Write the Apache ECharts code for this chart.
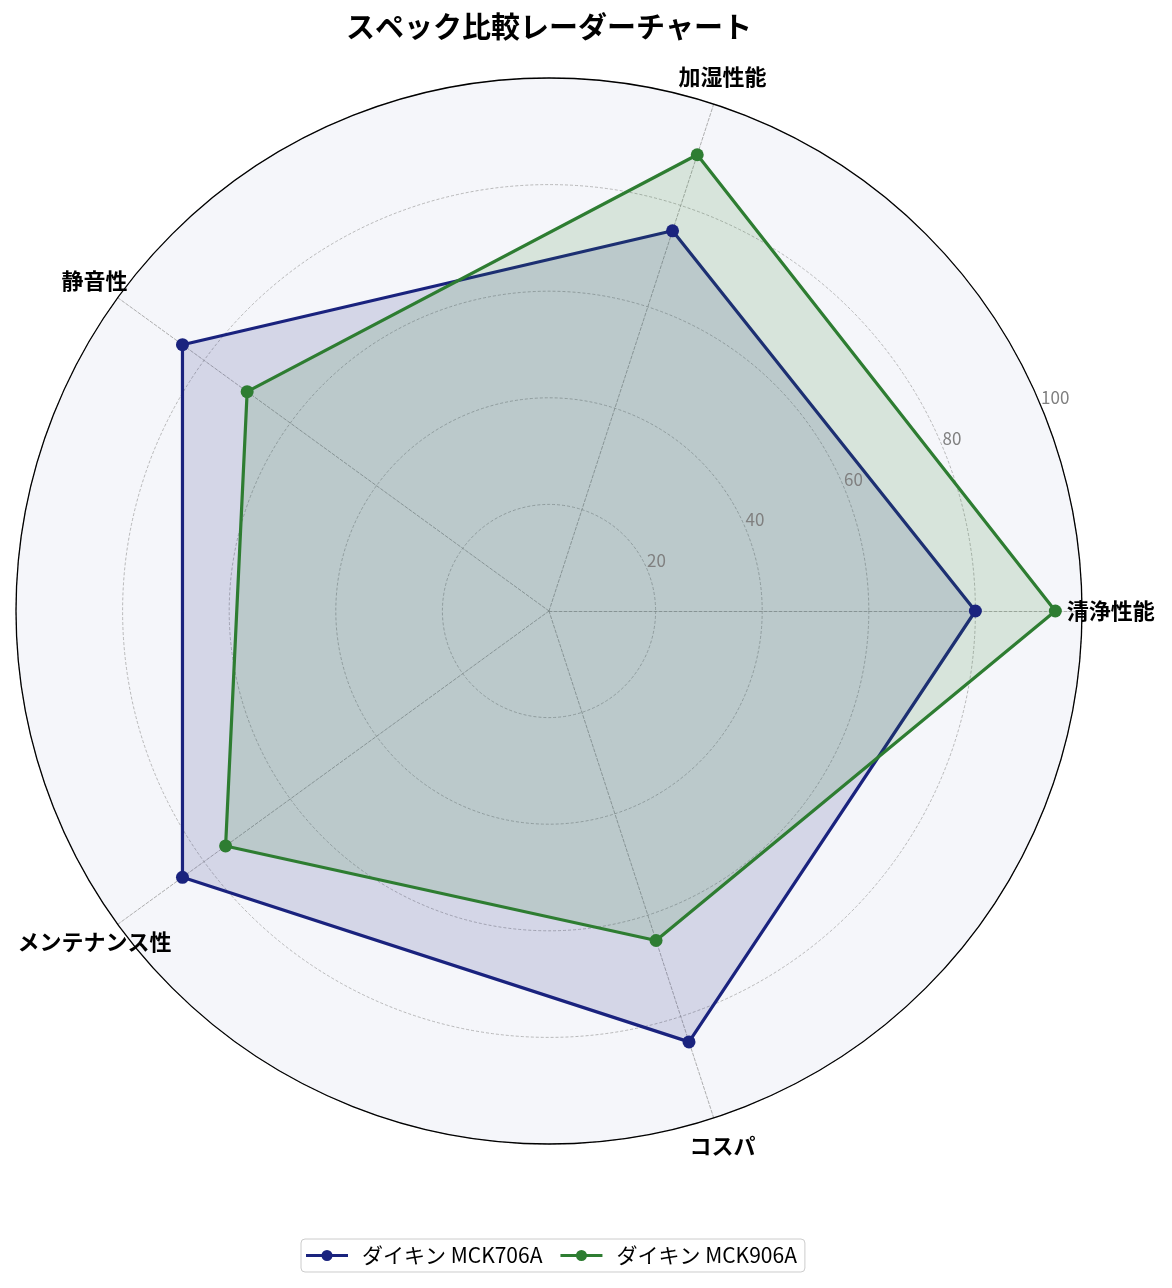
<!DOCTYPE html>
<html lang="ja">
<head>
  <meta charset="UTF-8">
  <script src="https://cdn.jsdelivr.net/npm/echarts/dist/echarts.min.js"></script>
  <style>
    html, body { margin: 0; padding: 0; background: #fff; }
    #chart { width: 1172px; height: 1288px; }
  </style>
</head>
<body>
  <div id="chart"></div>
  <script>
    // axes of the radar, counter-clockwise from the right
    const categories = ['清浄性能', '加湿性能', '静音性', 'メンテナンス性', 'コスパ'];
    const seriesNames = ['ダイキン MCK706A', 'ダイキン MCK906A'];
    const mck706a = [80, 75, 85, 85, 85];
    const mck906a = [95, 90, 70, 75, 65];
    const seriesColors = ['#1a237e', '#2e7d32'];
    const rTicks = [0, 20, 40, 60, 80, 100];

    const font = '"Noto Sans CJK JP", "Noto Sans", sans-serif';
    const center = [549, 611];
    const radius = 533;
    const rMax = rTicks[rTicks.length - 1];
    const rStep = rTicks[1] - rTicks[0];

    // legend icon: short line with a dot on it
    const legendIcon = 'path://M0,5.5h42v3h-42z M26.5,7a5.5,5.5 0 1,1 -11,0a5.5,5.5 0 1,1 11,0z';

    const chart = echarts.init(document.getElementById('chart'));

    const makeSeries = (name, values, color) => ({
      type: 'radar',
      radarIndex: 0,
      z: 3,
      symbol: 'circle',
      symbolSize: 13,
      lineStyle: { color: color, width: 3.2 },
      itemStyle: { color: color },
      areaStyle: { color: color, opacity: 0.15 },
      data: [{ name: name, value: values }]
    });

    // category names sit just outside the ring, centred on each spoke
    const nameData = categories.map((c, i) => ({
      value: [105.4, i * 360 / categories.length],
      label: { formatter: c }
    }));

    const option = {
      backgroundColor: '#ffffff',
      animation: false,
      color: seriesColors,
      textStyle: { fontFamily: font },
      title: {
        text: 'スペック比較レーダーチャート',
        left: center[0] - 5,
        textAlign: 'center',
        top: 7,
        textStyle: { fontFamily: font, fontSize: 29, fontWeight: 'bold', color: '#000' }
      },
      legend: {
        left: 301,
        top: 1239,
        orient: 'horizontal',
        data: seriesNames.map(n => ({ name: n, icon: legendIcon })),
        itemWidth: 42,
        itemHeight: 11,
        itemGap: 18,
        padding: [6, 8, 6, 5],
        borderColor: '#cccccc',
        borderWidth: 1,
        borderRadius: 4,
        backgroundColor: '#ffffff',
        textStyle: { fontFamily: font, fontSize: 21, color: '#000', padding: [0, 0, 0, 9] }
      },
      radar: {
        center: center,
        radius: radius,
        startAngle: 0,
        shape: 'circle',
        splitNumber: rTicks.length - 1,
        indicator: categories.map(c => ({ name: c, min: 0, max: rMax })),
        axisName: { show: false },
        axisLine: { lineStyle: { color: '#9a9a9a', width: 0.8, type: [3, 2] } },
        splitLine: { lineStyle: { color: '#a8a8a8', width: 0.8, type: [3, 2] } },
        splitArea: { show: true, areaStyle: { color: ['#f5f6fa'] } }
      },
      polar: [
        { center: center, radius: radius },
        { center: center, radius: radius }
      ],
      angleAxis: [
        {
          polarIndex: 0, type: 'value', min: 22.5, max: 382.5, startAngle: 22.5, clockwise: false,
          axisLine: { show: false }, axisTick: { show: false }, axisLabel: { show: false },
          splitLine: { show: false }
        },
        {
          polarIndex: 1, type: 'value', min: 0, max: 360, startAngle: 0, clockwise: false,
          z: 5,
          axisLine: { show: true, lineStyle: { color: '#000', width: 1.3 } },
          axisTick: { show: false }, axisLabel: { show: false }, splitLine: { show: false }
        }
      ],
      radiusAxis: [
        {
          polarIndex: 0, type: 'value', min: rTicks[0], max: rMax, interval: rStep,
          z: 6,
          axisLine: { show: false }, axisTick: { show: false }, splitLine: { show: false },
          axisLabel: {
            show: true, showMinLabel: false, color: '#808080', fontSize: 17, fontFamily: font,
            align: 'left', verticalAlign: 'bottom', margin: 1
          }
        },
        {
          polarIndex: 1, type: 'value', min: rTicks[0], max: rMax, show: false
        }
      ],
      series: [
        makeSeries(seriesNames[0], mck706a, seriesColors[0]),
        makeSeries(seriesNames[1], mck906a, seriesColors[1]),
        {
          type: 'scatter',
          coordinateSystem: 'polar',
          polarIndex: 1,
          clip: false,
          silent: true,
          symbolSize: 0.1,
          itemStyle: { color: '#000' },
          label: {
            show: true, position: 'inside', color: '#000', fontSize: 22,
            fontWeight: 'bold', fontFamily: font, opacity: 1, textBorderWidth: 0
          },
          data: nameData
        }
      ]
    };
    chart.setOption(option);
  </script>
</body>
</html>
